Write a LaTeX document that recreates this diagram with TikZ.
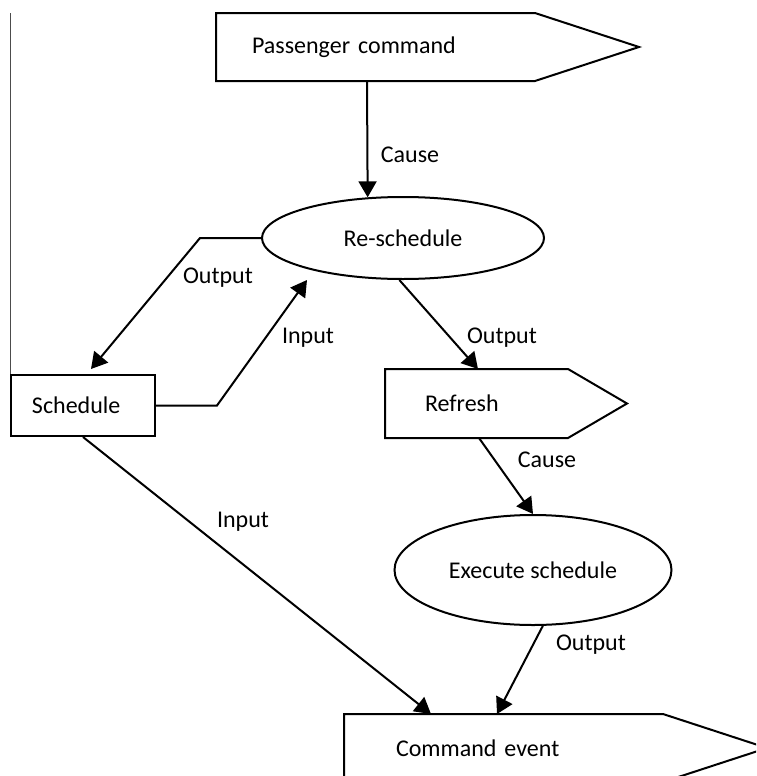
\documentclass[tikz,border=0pt]{standalone}
\usepackage{fontspec}
\setmainfont{Carlito}
\usetikzlibrary{arrows.meta}
\usetikzlibrary{calc}
\usetikzlibrary{shapes.geometric}

\begin{document}
\begin{tikzpicture}[x=0.5pt,y=-0.5pt,line width=1pt,font=\fontsize{12}{14}\selectfont,
	arr/.style={-{Triangle[length=8pt,width=9pt]}},
	tagbox/.style={inner ysep=0pt,align=left},
	oval/.style={draw,ellipse,inner sep=0pt}]
	\useasboundingbox (0,0) rectangle (756,776);
	\clip (0,0) rectangle (756,776);
	% signals
	\node[tagbox,minimum height=33pt,text width=123.5pt,inner xsep=17.5pt] (pcmd) at (375.5,47) {Passenger command};
	\draw (pcmd.north west) -- (pcmd.north east) -- ($(pcmd.east)+(104,0)$) -- (pcmd.south east) -- (pcmd.south west) -- cycle;
	\node[tagbox,minimum height=33.5pt,text width=51.5pt,inner xsep=19.5pt] (refresh) at (476.5,403.5) {Refresh};
	\draw (refresh.north west) -- (refresh.north east) -- ($(refresh.east)+(59,0)$) -- (refresh.south east) -- (refresh.south west) -- cycle;
	\node[tagbox,minimum height=33pt,text width=107.5pt,inner xsep=25.5pt] (cmd) at (503.5,748) {Command event};
	\draw (cmd.north west) -- (cmd.north east) -- ($(cmd.east)+(104,0)$) -- (cmd.south east) -- (cmd.south west) -- cycle;
	\node[tagbox,draw,minimum height=30.5pt,text width=51pt,inner xsep=10.5pt] (sched) at (83,405.5) {Schedule};
	% activities
	\node[oval,minimum width=141pt,minimum height=41pt] (resched) at (403,238) {Re-schedule};
	\node[oval,minimum width=138.5pt,minimum height=55pt] (exec) at (533,570) {Execute schedule};
	\draw[line width=0.5pt,black!70] (sched.north west) -- (sched.north west |- 0,13);
	% relations
	\draw[arr] ($(pcmd.south west)+(151,0)$) -- (resched.131);
	\node (c1) at (410,155) {Cause};
	\draw[arr] (resched.west) -- (200,238) -- ($(sched.north west)+(81,-5)$);
	\node (o1) at (218,278) {Output};
	\draw[arr] (sched.east) -- (217,405.5) -- ($(resched.center)+(-96,42)$);
	\node (i1) at (308,338) {Input};
	\draw[arr] (resched.265) -- ($(refresh.north west)+(93,0)$);
	\node (o2) at (502,338) {Output};
	\draw[arr] ($(refresh.south west)+(94,0)$) -- (exec.north);
	\node (c2) at (547,460) {Cause};
	\draw[arr] (exec.280) -- ($(cmd.north west)+(153,0)$);
	\node (o3) at (591,645) {Output};
	\draw[arr] (sched.south) -- ($(cmd.north west)+(87,0)$);
	\node (i2) at (243,522) {Input};
\end{tikzpicture}
\end{document}
